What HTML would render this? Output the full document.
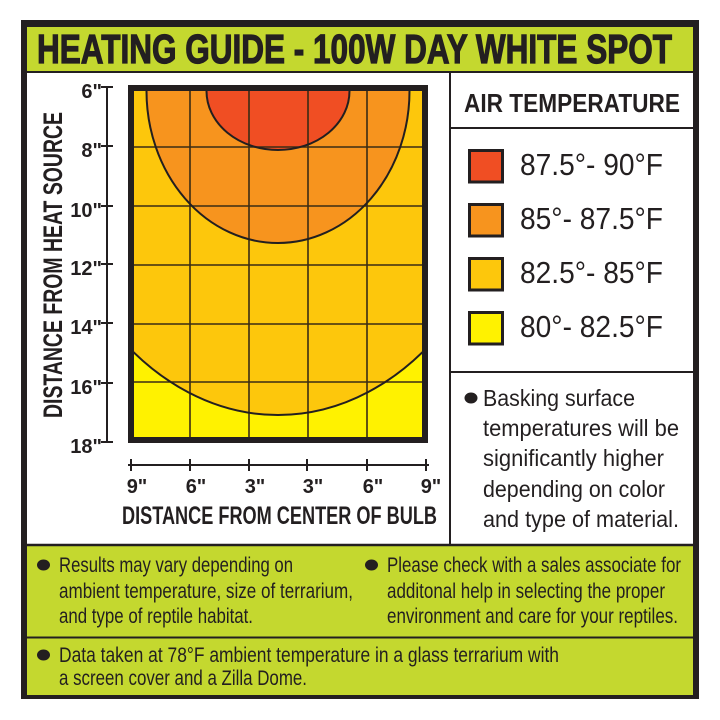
<!DOCTYPE html>
<html>
<head>
<meta charset="utf-8">
<style>
html,body{margin:0;padding:0;background:#fff;}
svg{display:block;}
text{font-family:"Liberation Sans",Arial,sans-serif;fill:#231f20;}
.b{font-weight:bold;}
</style>
</head>
<body>
<svg width="720" height="720" viewBox="0 0 720 720" xmlns="http://www.w3.org/2000/svg">
  <rect width="720" height="720" fill="#fff"/>
  <!-- outer frame -->
  <rect x="21" y="20" width="678" height="679" fill="#231f20"/>
  <rect x="27" y="27" width="666" height="668" fill="#fff"/>
  <!-- title bar -->
  <rect x="27" y="27" width="666" height="45" fill="#c4d82f"/>
  <line x1="27" y1="72" x2="693" y2="72" stroke="#231f20" stroke-width="2"/>
  <text class="b" x="37" y="63" font-size="41" textLength="635" lengthAdjust="spacingAndGlyphs" stroke="#231f20" stroke-width="1.2">HEATING GUIDE - 100W DAY WHITE SPOT</text>

  <!-- bottom green -->
  <rect x="27" y="545" width="666" height="150" fill="#c4d82f"/>
  <line x1="27" y1="545" x2="693" y2="545" stroke="#231f20" stroke-width="2.5"/>
  <line x1="27" y1="637.5" x2="693" y2="637.5" stroke="#231f20" stroke-width="2"/>

  <!-- legend panel lines -->
  <line x1="450" y1="72" x2="450" y2="545" stroke="#231f20" stroke-width="2"/>
  <line x1="450" y1="128" x2="693" y2="128" stroke="#231f20" stroke-width="2"/>
  <line x1="450" y1="372" x2="693" y2="372" stroke="#231f20" stroke-width="2"/>

  <!-- plot -->
  <defs>
    <clipPath id="pc"><rect x="134" y="91" width="288" height="346"/></clipPath>
  </defs>
  <g clip-path="url(#pc)">
    <rect x="134" y="91" width="288" height="346" fill="#fff200"/>
    <ellipse cx="278" cy="91" rx="244" ry="324" fill="#fdc70c"/>
    <ellipse cx="278" cy="91" rx="131.5" ry="152" fill="#f7941e"/>
    <ellipse cx="278" cy="91" rx="71.5" ry="59" fill="#f04e23"/>
    <g stroke="#3a2c14" stroke-width="1.6">
      <line x1="190" y1="91" x2="190" y2="437"/>
      <line x1="249" y1="91" x2="249" y2="437"/>
      <line x1="308" y1="91" x2="308" y2="437"/>
      <line x1="367" y1="91" x2="367" y2="437"/>
      <line x1="134" y1="147" x2="422" y2="147"/>
      <line x1="134" y1="206" x2="422" y2="206"/>
      <line x1="134" y1="265" x2="422" y2="265"/>
      <line x1="134" y1="324" x2="422" y2="324"/>
      <line x1="134" y1="382" x2="422" y2="382"/>
    </g>
    <g fill="none" stroke="#231f20" stroke-width="2">
      <ellipse cx="278" cy="91" rx="244" ry="324"/>
      <ellipse cx="278" cy="91" rx="131.5" ry="152"/>
      <ellipse cx="278" cy="91" rx="71.5" ry="59"/>
    </g>
  </g>
  <rect x="131" y="88" width="294" height="352" fill="none" stroke="#231f20" stroke-width="6"/>

  <!-- Y axis -->
  <g stroke="#231f20" stroke-width="2">
    <line x1="107" y1="86" x2="107" y2="443"/>
    <line x1="101" y1="87" x2="113" y2="87"/>
    <line x1="101" y1="146" x2="113" y2="146"/>
    <line x1="101" y1="206" x2="113" y2="206"/>
    <line x1="101" y1="264" x2="113" y2="264"/>
    <line x1="101" y1="323" x2="113" y2="323"/>
    <line x1="101" y1="383" x2="113" y2="383"/>
    <line x1="101" y1="442" x2="113" y2="442"/>
  </g>
  <g class="b" font-size="20" text-anchor="end">
    <text class="b" x="102" y="98">6"</text>
    <text class="b" x="102" y="157">8"</text>
    <text class="b" x="102" y="217">10"</text>
    <text class="b" x="102" y="275">12"</text>
    <text class="b" x="102" y="334">14"</text>
    <text class="b" x="102" y="394">16"</text>
    <text class="b" x="102" y="453">18"</text>
  </g>
  <text class="b" transform="translate(62,418) rotate(-90)" x="0" y="0" font-size="27" textLength="306" lengthAdjust="spacingAndGlyphs">DISTANCE FROM HEAT SOURCE</text>

  <!-- X axis -->
  <g stroke="#231f20" stroke-width="2">
    <line x1="128" y1="465" x2="429" y2="465"/>
    <line x1="131" y1="459" x2="131" y2="471"/>
    <line x1="190" y1="459" x2="190" y2="471"/>
    <line x1="249" y1="459" x2="249" y2="471"/>
    <line x1="307" y1="459" x2="307" y2="471"/>
    <line x1="367" y1="459" x2="367" y2="471"/>
    <line x1="426" y1="459" x2="426" y2="471"/>
  </g>
  <g font-size="20" text-anchor="middle">
    <text class="b" x="137" y="493">9"</text>
    <text class="b" x="196" y="493">6"</text>
    <text class="b" x="255" y="493">3"</text>
    <text class="b" x="313" y="493">3"</text>
    <text class="b" x="373" y="493">6"</text>
    <text class="b" x="431" y="493">9"</text>
  </g>
  <text class="b" x="122" y="524" font-size="25" textLength="315" lengthAdjust="spacingAndGlyphs">DISTANCE FROM CENTER OF BULB</text>

  <!-- legend -->
  <text class="b" x="464" y="112" font-size="26" textLength="216" lengthAdjust="spacingAndGlyphs">AIR TEMPERATURE</text>
  <g stroke="#231f20" stroke-width="3">
    <rect x="469.5" y="150.5" width="33" height="31.5" fill="#f04e23"/>
    <rect x="469.5" y="204.5" width="33" height="31.5" fill="#f7941e"/>
    <rect x="469.5" y="258.5" width="33" height="31.5" fill="#fdc70c"/>
    <rect x="469.5" y="312.5" width="33" height="31.5" fill="#fff200"/>
  </g>
  <text x="520" y="175" font-size="31" textLength="143" lengthAdjust="spacingAndGlyphs">87.5°- 90°F</text>
  <text x="520" y="229" font-size="31" textLength="143" lengthAdjust="spacingAndGlyphs">85°- 87.5°F</text>
  <text x="520" y="283" font-size="31" textLength="143" lengthAdjust="spacingAndGlyphs">82.5°- 85°F</text>
  <text x="520" y="337" font-size="31" textLength="143" lengthAdjust="spacingAndGlyphs">80°- 82.5°F</text>

  <!-- basking note -->
  <ellipse cx="471" cy="398" rx="6.5" ry="5.5" fill="#231f20"/>
  <g font-size="23">
    <text x="483" y="406" textLength="152" lengthAdjust="spacingAndGlyphs">Basking surface</text>
    <text x="483" y="436" textLength="196" lengthAdjust="spacingAndGlyphs">temperatures will be</text>
    <text x="483" y="466" textLength="181" lengthAdjust="spacingAndGlyphs">significantly higher</text>
    <text x="483" y="497" textLength="182" lengthAdjust="spacingAndGlyphs">depending on color</text>
    <text x="483" y="527" textLength="196" lengthAdjust="spacingAndGlyphs">and type of material.</text>
  </g>

  <!-- bottom notes -->
  <ellipse cx="43.5" cy="565" rx="6.5" ry="5.5" fill="#231f20"/>
  <ellipse cx="371.5" cy="565" rx="6.5" ry="5.5" fill="#231f20"/>
  <ellipse cx="43.5" cy="655" rx="6.5" ry="5.5" fill="#231f20"/>
  <g font-size="21">
    <text x="59" y="572" textLength="234" lengthAdjust="spacingAndGlyphs">Results may vary depending on</text>
    <text x="59" y="598" textLength="294" lengthAdjust="spacingAndGlyphs">ambient temperature, size of terrarium,</text>
    <text x="59" y="623" textLength="194" lengthAdjust="spacingAndGlyphs">and type of reptile habitat.</text>
    <text x="387" y="572" textLength="294" lengthAdjust="spacingAndGlyphs">Please check with a sales associate for</text>
    <text x="387" y="598" textLength="278" lengthAdjust="spacingAndGlyphs">additonal help in selecting the proper</text>
    <text x="387" y="623" textLength="291" lengthAdjust="spacingAndGlyphs">environment and care for your reptiles.</text>
    <text x="59" y="662" textLength="500" lengthAdjust="spacingAndGlyphs">Data taken at 78°F ambient temperature in a glass terrarium with</text>
    <text x="59" y="685" textLength="248" lengthAdjust="spacingAndGlyphs">a screen cover and a Zilla Dome.</text>
  </g>
</svg>
</body>
</html>
